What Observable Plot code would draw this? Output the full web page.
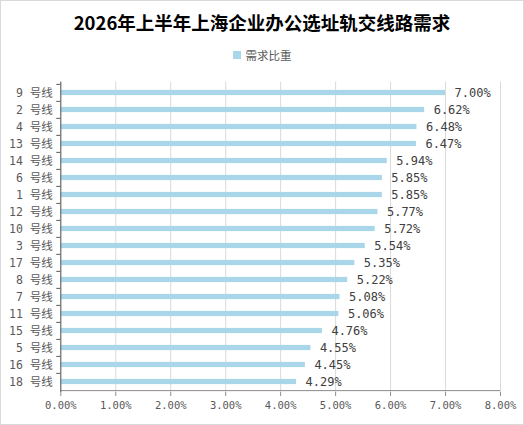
<!DOCTYPE html>
<html><head><meta charset="utf-8">
<script src="https://cdn.jsdelivr.net/npm/d3@7"></script>
<script src="https://cdn.jsdelivr.net/npm/@observablehq/plot@0.6"></script>
<style>
body{margin:0;background:#fff;}
#wrap{width:524px;height:425px;box-sizing:border-box;border:1px solid #d9d9d9;position:relative;overflow:hidden;font-family:"Noto Sans CJK SC",sans-serif;background:#fff;}
#title{height:42px;line-height:42px;text-align:center;font-weight:bold;font-size:18.5px;color:#000;white-space:nowrap;}
#legend{height:24px;display:flex;align-items:center;justify-content:center;font-size:11.5px;color:#595959;}
#legend .sw{width:8px;height:8px;background:#a9d7e9;margin-right:5px;display:inline-block;}
#chart svg{display:block;}
</style></head>
<body>
<div id="wrap">
  <div id="title"></div>
  <div id="legend"><span class="sw"></span><span id="legtext"></span></div>
  <div id="chart"></div>
</div>
<script>
const titleText = "2026年上半年上海企业办公选址轨交线路需求";
const seriesName = "需求比重";
const lines = ["9","2","4","13","14","6","1","12","10","3","17","8","7","11","15","5","16","18"];
const shares = [7.00,6.62,6.48,6.47,5.94,5.85,5.85,5.77,5.72,5.54,5.35,5.22,5.08,5.06,4.76,4.55,4.45,4.29];
const xTicks = [0,1,2,3,4,5,6,7,8];

document.getElementById("title").textContent = titleText;
document.getElementById("legtext").textContent = seriesName;

const labels = lines.map(l => `${l} 号线`);
const data = lines.map((l, i) => ({line: labels[i], share: shares[i]}));

const H = 357, mT = 14.7, mB = 32;
const bw = (H - mT - mB) / lines.length;
const monoFont = "'DejaVu Sans Mono', 'Noto Sans CJK SC', sans-serif";

const chart = Plot.plot({
  width: 522,
  height: H,
  marginLeft: 59.3,
  marginRight: 23,
  marginTop: mT,
  marginBottom: mB,
  style: {fontFamily: monoFont, fontSize: "11px", background: "#fff", overflow: "visible"},
  x: {domain: [0, 8], axis: null},
  y: {type: "band", domain: labels, padding: 0, axis: null},
  marks: [
    Plot.gridX(xTicks, {stroke: "#d9d9d9", strokeOpacity: 1}),
    Plot.barX(data, {x: "share", y: "line", fill: "#a9d7e9", insetTop: 5.9, insetBottom: 5.9}),
    Plot.text(data, {x: "share", y: "line", text: d => `${d.share.toFixed(2)}%`, textAnchor: "start", dx: 9, fill: "#404040", fontSize: 12}),
    Plot.axisY({tickSize: 0, tickPadding: 8, color: "#595959", fontSize: 11.5, fontFamily: monoFont, label: null}),
    Plot.axisY({text: null, tickSize: 4, dy: -bw / 2, stroke: "#595959", label: null}),
    Plot.ruleY([labels[labels.length - 1]], {dy: bw / 2, x1: 0, x2: 8, stroke: "#8c8c8c"}),
    Plot.axisX(xTicks, {tickFormat: d => `${d.toFixed(2)}%`, tickSize: 4, tickPadding: 5, color: "#595959", stroke: "#8c8c8c", fontSize: 10.5, fontFamily: monoFont, label: null}),
    Plot.ruleX([0], {stroke: "#595959"})
  ]
});
document.getElementById("chart").appendChild(chart);
</script>
</body></html>
